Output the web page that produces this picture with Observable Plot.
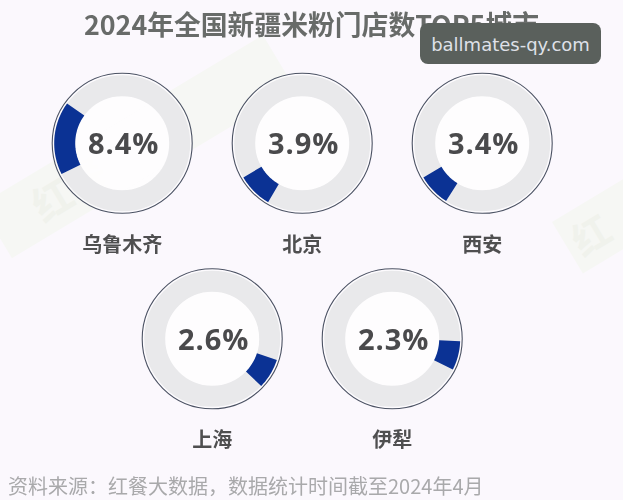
<!DOCTYPE html>
<html><head><meta charset="utf-8">
<script src="https://cdn.jsdelivr.net/npm/d3@7"></script>
<script src="https://cdn.jsdelivr.net/npm/@observablehq/plot@0.6"></script>
<style>
html,body{margin:0;padding:0;background:#fbf8fd;overflow:hidden}
#page{position:relative;width:623px;height:500px;overflow:hidden;font-family:"Noto Sans CJK SC","Noto Sans",sans-serif;filter:blur(.35px)}
#title{position:relative;height:50px;line-height:48px;text-align:center;font-size:26.8px;font-weight:700;color:#686b69;white-space:nowrap}
#chart{position:relative;height:420px}
#chart svg{display:block;background:transparent}
.pct text{letter-spacing:1px}
#caption{position:absolute;left:8px;top:472px;height:26px;line-height:27px;font-size:20px;color:#a9a9ab;white-space:nowrap}
#badge{position:absolute;left:420px;top:23px;width:181px;height:41px;border-radius:8px;background:#5a605c;color:#dfe0e8;font:18px/43px "DejaVu Sans",sans-serif;text-align:center}
.wm{position:absolute;background:#f6f7f4;color:#f0f2ec;font-weight:700;transform-origin:left top;transform:rotate(-31deg);box-sizing:border-box}
</style></head>
<body>
<div id="page">
  <div class="wm" style="left:-20px;top:205px;width:330px;height:62px;font-size:40px;line-height:62px;padding-left:45px">红餐</div>
  <div class="wm" style="left:552px;top:222px;width:120px;height:60px;font-size:38px;line-height:60px;padding-left:8px">红</div>
  <div id="title">2024年全国新疆米粉门店数TOP5城市</div>
  <div id="chart"></div>
  <div id="caption">资料来源&#xFF1A;红餐大数据&#xFF0C;数据统计时间截至2024年4月</div>
  <div id="badge">ballmates-qy.com</div>
</div>
<script>
const cities = ["乌鲁木齐", "北京", "西安", "上海", "伊犁"];
const shares = [8.4, 3.9, 3.4, 2.6, 2.3];
// arc ends, degrees clockwise from north
const arcStart = [243, 210, 212, 108, 92];
const arcEnd = [306, 240, 240, 134, 117];
// grid cell of each ring (the lower row sits half a column across)
const cols = [0, 1, 2, 0.5, 1.5];
const rows = [0, 0, 0, 1, 1];

const colPx = 180, rowPx = 195.5, ringR = 57.5, ringW = 21;
const rings = cities.map((city, i) => ({
  city, share: shares[i], col: cols[i], row: rows[i],
  label: shares[i].toFixed(1) + "%"
}));
const arcs = rings.flatMap((d, i) => {
  const n = 24, pts = [];
  for (let k = 0; k <= n; ++k) {
    const a = (arcStart[i] + (arcEnd[i] - arcStart[i]) * k / n) * Math.PI / 180;
    pts.push({city: d.city,
      x: d.col + ringR * Math.sin(a) / colPx,
      y: d.row - ringR * Math.cos(a) / rowPx});
  }
  return pts;
});

const plot = Plot.plot({
  width: 623, height: 420, margin: 0,
  style: {background: "transparent", fontFamily: '"Noto Sans CJK SC","Noto Sans",sans-serif'},
  x: {axis: null, domain: [0, 2], range: [121.7, 481.7]},
  y: {axis: null, domain: [0, 1], range: [92.8, 288.3]},
  marks: [
    Plot.dot(rings, {x: "col", y: "row", r: 70, fill: "#fdfcfe", fillOpacity: 0.7, stroke: "none"}),
    Plot.dot(rings, {x: "col", y: "row", r: ringR, stroke: "#e9e9eb", strokeWidth: ringW, fill: "#fefefe", fillOpacity: 0.8}),
    Plot.dot(rings, {x: "col", y: "row", r: 70, stroke: "#4b5263", strokeWidth: 1.1, fill: "none"}),
    Plot.line(arcs, {x: "x", y: "y", z: "city", stroke: "#0b3294", strokeWidth: ringW, strokeLinecap: "butt", strokeLinejoin: "round"}),
    Plot.text(rings, {x: "col", y: "row", text: "label", dx: 1.5, dy: 1.5, fontSize: 29, fontWeight: 700, fill: "#4a4a4c", fontFamily: '"Open Sans",sans-serif', className: "pct"}),
    Plot.text(rings, {x: "col", y: "row", text: "city", dy: 102, fontSize: 20, fontWeight: 700, fill: "#4f4f50"})
  ]
});
document.getElementById("chart").append(plot);
</script>
</body></html>
